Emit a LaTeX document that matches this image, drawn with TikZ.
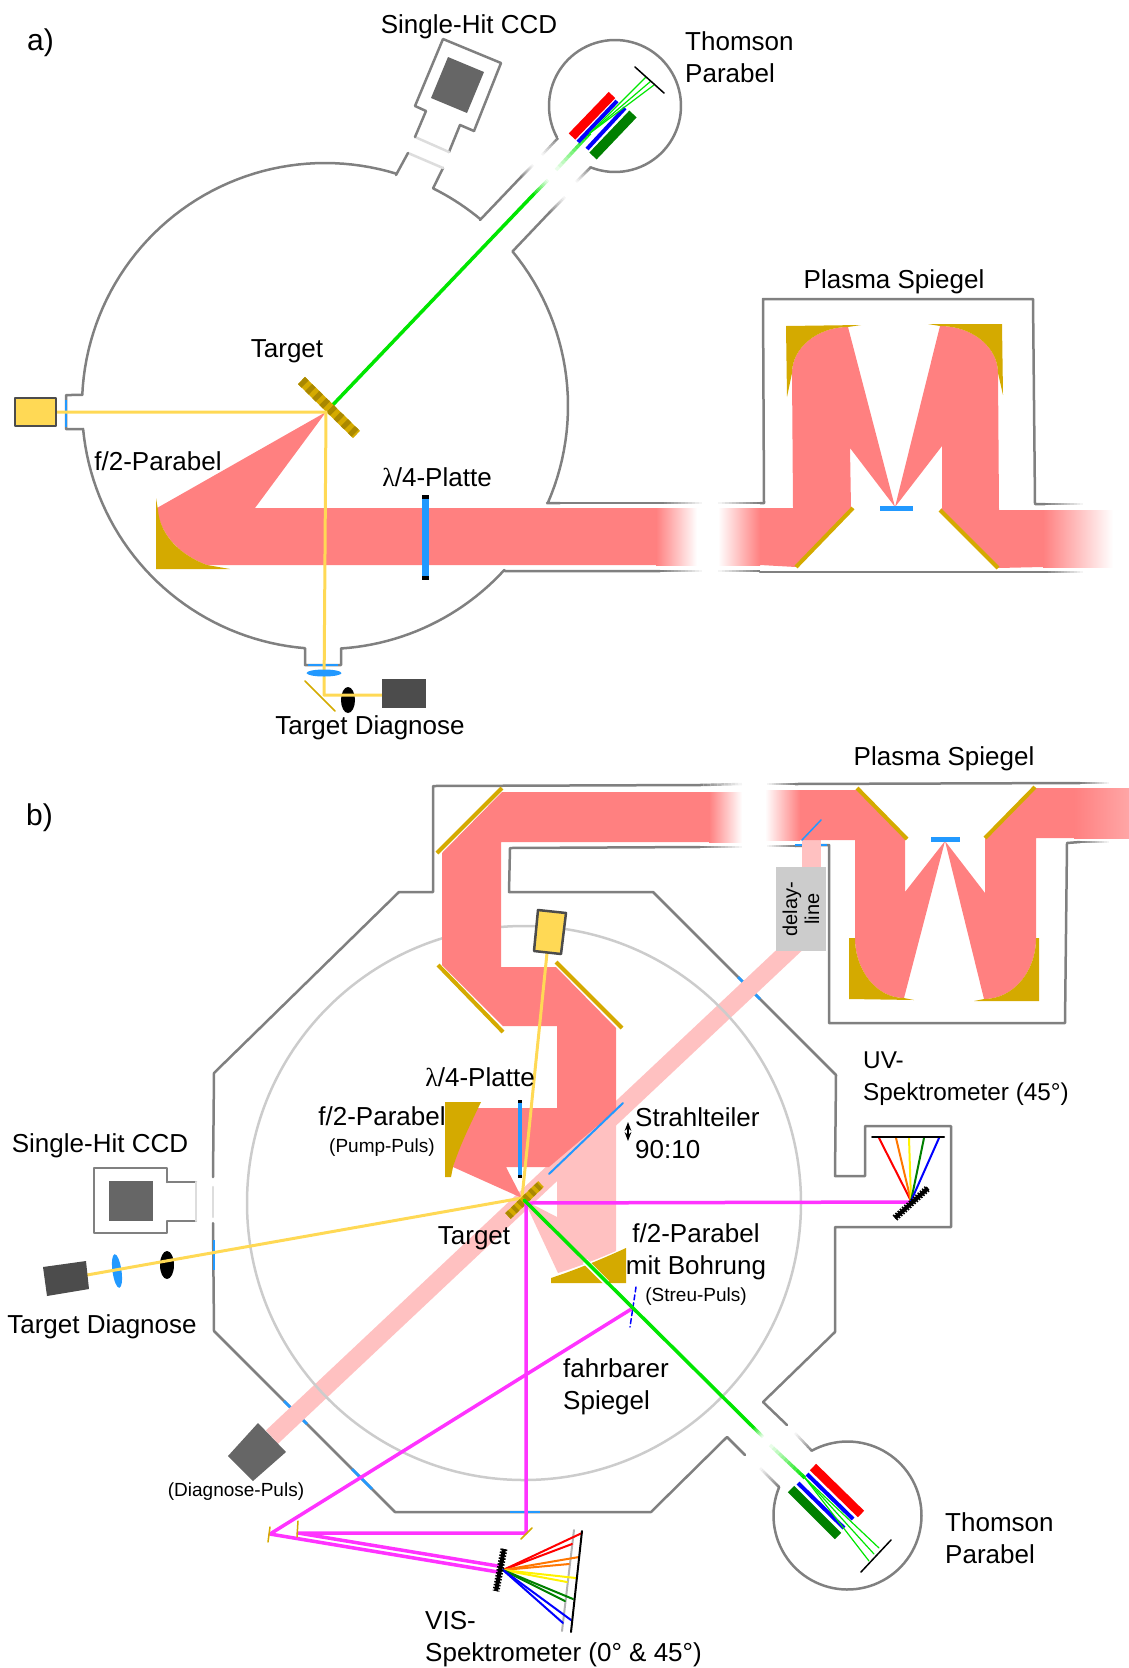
\documentclass[tikz,border=0pt]{standalone}
\usepackage{fontspec}
\setmainfont{Liberation Sans}
\newfontfamily\lambdafont{Liberation Serif}
\usetikzlibrary{arrows.meta,calc,shapes.geometric}

\definecolor{beam}{HTML}{FF8080}
\definecolor{beamlight}{HTML}{FFC1C1}
\definecolor{gold}{HTML}{D4AA00}
\definecolor{golddark}{HTML}{AA8800}
\definecolor{optic}{HTML}{2299FF}
\definecolor{probe}{HTML}{FFD955}
\definecolor{wallgray}{HTML}{808080}
\definecolor{wallpale}{HTML}{DDDDDD}
\definecolor{innergray}{HTML}{CCCCCC}
\definecolor{magentabeam}{HTML}{FF33FF}
\definecolor{ion}{HTML}{00E600}
\definecolor{darkgreen}{HTML}{008000}
\definecolor{orangeray}{HTML}{FF7700}

% fading piece of line, from full colour to white
\newcommand{\fadeline}[4]{%
  \foreach \i [evaluate=\i as \pc using 100-\i*8.33,
               evaluate=\i as \ta using \i/12,
               evaluate=\i as \tb using (\i+1)/12] in {0,...,11}
    \draw[#3!\pc!white,line width=#4,line cap=butt] ($#1!\ta!#2$) -- ($#1!\tb!#2$);%
}

\begin{document}
\begin{tikzpicture}[x=1pt,y=-1pt, line cap=round, line join=round, >=Stealth,
  wall/.style={draw=wallgray,line width=2.5pt},
  wallthin/.style={draw=wallpale,line width=2.5pt},
  window/.style={draw=optic,line width=2.5pt,line cap=butt},
  mirror/.style={draw=gold,line width=4pt,line cap=butt},
  probeline/.style={draw=probe,line width=3pt},
  pumpline/.style={draw=magentabeam,line width=3.5pt},
  ionline/.style={draw=ion,line width=3.5pt},
  ionthin/.style={draw=ion,line width=1.2pt},
  bar/.style={line width=#1,line cap=butt},
  ray/.style={line width=2pt},
  camera/.style={fill=black!70},
  lbl/.style={font=\fontsize{26}{32}\selectfont,align=left,inner sep=0pt},
  sublbl/.style={font=\fontsize{19}{23}\selectfont,align=center,inner sep=0pt},
  panellbl/.style={font=\fontsize{30}{32}\selectfont,inner sep=0pt}]
  \useasboundingbox (0,0) rectangle (1129,1668);

  % --- a) chamber ---
  \draw[wall] plot[domain=72.9:177.4,samples=50] ({325+243*cos(\x)},{406-243*sin(\x)})
    -- (66,395) -- (66,429) -- (83,429)
    -- plot[domain=185.4:265.3,samples=40] ({325+243*cos(\x)},{406-243*sin(\x)})
    -- (305,665) -- (341,665) -- (341,649)
    -- plot[domain=273.8:317.5,samples=25] ({325+243*cos(\x)},{406-243*sin(\x)})
    -- (505,571) -- (660,571);
  \draw[wall] (560,503) -- (547,503)
    -- plot[domain=336.4:399.5,samples=30] ({325+243*cos(\x)},{406-243*sin(\x)})
    -- (549,213);
  \draw[wall] (521,177) -- (480,220)
    -- plot[domain=50.2:63.6,samples=10] ({325+243*cos(\x)},{406-243*sin(\x)})
    -- (443,168);
  \draw[wallthin] (443,168) -- (408,153);
  \draw[wall] (408,153) -- (396,175);
  \draw[wall] (560,503) -- (660,503);
  \fadeline{(660,503)}{(702,503)}{wallgray}{2.5pt}
  \fadeline{(660,571)}{(702,571)}{wallgray}{2.5pt}
  \fadeline{(760,503)}{(718,503)}{wallgray}{2.5pt}
  \fadeline{(760,571)}{(718,571)}{wallgray}{2.5pt}
  \fadeline{(521,177)}{(533,165)}{wallgray}{2.5pt}
  \fadeline{(558,138)}{(542,155)}{wallgray}{2.5pt}
  \fadeline{(549,213)}{(565,197)}{wallgray}{2.5pt}
  \fadeline{(591,167)}{(576,182)}{wallgray}{2.5pt}
  \draw[window] (66,400) -- (66,427);
  \draw[window] (308,665) -- (338,665);

  % --- a) plasma mirror box ---
  \draw[wall] (760,503) -- (764,503) -- (763,299) -- (1033,299) -- (1035,504) -- (1045,504);
  \draw[wall] (760,572) -- (1045,572);
  \fadeline{(1045,504)}{(1083,504)}{wallgray}{2.5pt}
  \fadeline{(1045,572)}{(1083,572)}{wallgray}{2.5pt}

  % --- a) laser beam ---
  \fill[beam] (326,412) -- (157,508) .. controls (160,535) and (180,555) .. (207,565)
    -- (656,565) -- (656,508) -- (255,508) -- cycle;
  \shade[left color=beam,right color=white] (656,508) rectangle (697,565);
  \shade[left color=white,right color=beam] (718,508) rectangle (760,565);
  \fill[beam] (760,508) -- (793,508) -- (792,373)
    .. controls (792,348) and (817,327) .. (848,327) -- (895,507) -- (850,448) -- (851,508)
    -- (853,508) -- (796,567) -- (760,565) -- cycle;
  \fill[beam] (895,507) -- (940,326) .. controls (972,326) and (998,347) .. (998,373)
    -- (999,510) -- (1043,510) -- (1043,567) -- (998,568) -- (940,510) -- (942,508) -- (942,446) -- cycle;
  \shade[left color=beam,right color=white] (1043,510) rectangle (1113,567);

  % --- a) parabolas and mirrors ---
  \fill[gold] (156,498) -- (158,510) .. controls (160,535) and (180,555) .. (207,565)
    -- (230,569) -- (156,569) -- cycle;
  \fill[gold] (787,397) -- (792,373) .. controls (792,348) and (817,327) .. (848,327)
    -- (861,325) -- (786,326) -- cycle;
  \fill[gold] (1003,395) -- (998,373) .. controls (998,347) and (972,326) .. (940,326)
    -- (928,324) -- (1002,324) -- cycle;
  \draw[mirror] (796,567) -- (853,508);
  \draw[mirror] (940,510) -- (998,568);
  \draw[draw=optic,bar=5pt] (880,508) -- (913,508);
  \draw[draw=optic,bar=7pt] (425,495) -- (425,580);
  \draw[draw=black,bar=7pt] (425,495) -- (425,499);
  \draw[draw=black,bar=7pt] (425,576) -- (425,580);

  % --- a) target and diagnostics ---
  \draw[ionline] (326,412) -- (533,195);
  \fadeline{(533,195)}{(548,180)}{ion}{3.5pt}
  \fadeline{(590,133)}{(556,170)}{ion}{3.5pt}
  \draw[draw=gold,bar=10pt] (301.5,380.5) -- (356.5,434.5);
  \draw[draw=golddark,bar=10pt,dash pattern=on 5pt off 5pt] (301.5,380.5) -- (356.5,434.5);
  \fill[black] (348,700) ellipse [x radius=7,y radius=13];
  \draw[probeline] (55,412) -- (326,412) -- (324,695) -- (382,695);
  \draw[fill=probe,draw=black!70,line width=2.5pt] (15,398) rectangle (56,426);
  \fill[optic] (324,673) ellipse [x radius=17.5,y radius=3.5];
  \draw[draw=gold,line width=1.5pt] (305,681) -- (335,711);
  \fill[camera] (382,679) rectangle (426,708);

  % --- a) single-hit ccd ---
  \draw[wall] (474,131) -- (460,125) -- (449,152);
  \draw[wallthin] (449,152) -- (415,137);
  \draw[wall] (415,137) -- (426,111) -- (415,106) -- (443,39) -- (501,63) -- (474,131);
  \fill[black!60] (448,57) -- (484,72) -- (467,113) -- (431,98) -- cycle;

  % --- a) thomson parabola ---
  \draw[wall] plot[domain=248.5:568.5,samples=80] ({615+66*cos(\x)},{106-66*sin(\x)});
  \draw[fill=none,draw=red,bar=9pt] (572,136.5) -- (612,95);
  \draw[draw=blue,bar=4pt] (578,142) -- (617,101);
  \draw[draw=blue,bar=4pt] (587,149) -- (625,108);
  \draw[draw=darkgreen,bar=10pt] (593,156) -- (633,114);
  \draw[ionthin] (590,133) -- (646,77);
  \draw[ionthin] (590,133) -- (651,81);
  \draw[ionthin] (590,133) -- (654,85);
  \draw[draw=black,line width=1.5pt] (635,67) -- (664,93);

  % --- a) labels ---
  \node[panellbl,anchor=west] (labelA) at (27,43) {a)};
  \node[lbl] (ccdA) at (469,27) {Single-Hit CCD};
  \node[lbl,anchor=west] (thomsonA) at (685,57) {Thomson\\Parabel};
  \node[lbl] (targetA) at (287,351) {Target};
  \node[lbl] (paraA) at (158,461) {f/2-Parabel};
  \node[lbl] (plateA) at (437,477) {{\lambdafont λ}/4-Platte};
  \node[lbl] (plasmaA) at (894,282) {Plasma Spiegel};
  \node[lbl] (diagA) at (370,728) {Target Diagnose};

  % --- b) chamber ---
  \draw[wall] (700,785) -- (433,786) -- (433,892) -- (399,892) -- (214,1073) -- (213,1177);
  \draw[wallthin] (213,1187) -- (213,1217);
  \draw[wall] (213,1223) -- (214,1331) -- (395,1512) -- (651,1512) -- (727,1437);
  \draw[wall] (745,1455) -- (727,1437);
  \draw[wall] (700,847) -- (510,848) -- (509,892) -- (653,892) -- (836,1075) -- (835,1176)
    -- (865,1176) -- (865,1126) -- (951,1126) -- (951,1227) -- (835,1227) -- (835,1332) -- (763,1402);
  \draw[wall] (763,1402) -- (787,1425);
  \fadeline{(700,785)}{(742,784)}{wallgray}{2.5pt}
  \fadeline{(700,847)}{(742,847)}{wallgray}{2.5pt}
  \fadeline{(795,784)}{(767,784)}{wallgray}{2.5pt}
  \fadeline{(795,846)}{(767,846)}{wallgray}{2.5pt}
  \draw[wall] (795,784) -- (1080,783);
  \draw[wall] (795,846) -- (829,845) -- (829,1023) -- (1065,1023) -- (1067,843) -- (1080,842);
  \fadeline{(1080,783)}{(1109,783)}{wallgray}{2.5pt}
  \fadeline{(1080,842)}{(1109,842)}{wallgray}{2.5pt}
  \draw[wall] plot[domain=118.8:-202.6,samples=90] ({847.5+74*cos(\x)},{1515.5-74*sin(\x)});
  \fadeline{(812,1451)}{(795,1433)}{wallgray}{2.5pt}
  \fadeline{(779,1487)}{(760,1468)}{wallgray}{2.5pt}
  \draw[window] (284,1401) -- (307,1424);
  \draw[window] (352,1469) -- (372,1489);
  \draw[window] (510,1512) -- (540,1512);
  \draw[window] (214,1240) -- (214,1270);
  \draw[window] (738,977) -- (760,999);
  \draw[window] (795,845) -- (827,845);

  % --- b) diagnose beam ---
  \draw[draw=beamlight,bar=18pt] (799,941) -- (272,1437);
  \draw[draw=beamlight,bar=19pt] (811.5,840) -- (811.5,867);
  \fill[black!60] (258,1423) -- (286,1452) -- (253,1481) -- (228,1456) -- cycle;
  \fill[innergray] (776,867) rectangle (826,951);
  \node[font=\fontsize{20}{22}\selectfont,align=center,rotate=90,inner sep=0pt] (delay) at (801,909) {delay-\\line};

  % --- b) inner circle ---
  \draw[draw=innergray,line width=2.5pt] (524,1203) circle [radius=277];

  % --- b) streu beam below beam splitter ---
  \fill[beamlight] (616,1110) -- (616,1251) .. controls (595,1260) and (575,1268) .. (558,1273)
    -- (524,1200) -- (557,1217) -- (557,1170) -- cycle;

  % --- b) laser beam ---
  \shade[left color=beam,right color=white] (709,792) rectangle (742,842);
  \shade[left color=white,right color=beam] (765,790) rectangle (800,840);
  \shade[left color=beam,right color=beam!70!white] (1074,788) rectangle (1129,838);
  \fill[beam] (709,792) -- (502,792) -- (442,853) -- (442,965) -- (503,1026) -- (557,1026)
    -- (557,1108) -- (470,1108) .. controls (464,1125) and (458,1145) .. (453,1167)
    -- (522,1198) -- (506,1167) -- (549,1167) -- (616,1110) -- (616,1028) -- (556,967)
    -- (501,967) -- (501,842) -- (709,842) -- cycle;
  \fill[beam] (800,790) -- (857,790) -- (905,839) -- (905,892) -- (945,841) -- (904,998)
    .. controls (877,998) and (855,971) .. (855,938) -- (855,840) -- (800,840) -- cycle;
  \fill[beam] (1074,788) -- (1036,788) -- (985,838) -- (985,893) -- (945,841) -- (984,999)
    .. controls (1013,999) and (1036,972) .. (1036,938) -- (1036,838) -- (1074,838) -- cycle;

  % --- b) parabolas and mirrors ---
  \fill[gold] (445,1102) -- (481,1102) .. controls (470,1125) and (460,1145) .. (453,1167)
    -- (451,1177) -- (445,1177) -- cycle;
  \fill[gold] (626,1248) .. controls (600,1260) and (575,1270) .. (551,1278)
    -- (551,1283) -- (626,1283) -- cycle;
  \fill[gold] (849,938) -- (855,938) .. controls (855,971) and (877,998) .. (904,998)
    -- (914,1000) -- (849,999) -- cycle;
  \fill[gold] (1039,938) -- (1036,938) .. controls (1036,972) and (1013,999) .. (984,999)
    -- (974,1001) -- (1039,1001) -- cycle;
  \draw[mirror] (437,853) -- (502,788);
  \draw[mirror] (438,965) -- (503,1032);
  \draw[mirror] (556,962) -- (622,1028);
  \draw[mirror] (857,788) -- (907,839);
  \draw[mirror] (1035,787) -- (985,838);
  \draw[draw=optic,bar=5pt] (931,839) -- (960,839);
  \draw[draw=optic,line width=1.5pt] (802,840) -- (821,820);
  \draw[draw=optic,line width=2pt] (549,1174) -- (623,1103);
  \draw[draw=optic,bar=4.5pt] (520,1100) -- (520,1178);
  \draw[draw=black,bar=4.5pt] (520,1100) -- (520,1103);
  \draw[draw=black,bar=4.5pt] (520,1175) -- (520,1178);

  % --- b) probe lines and target ---
  \fill[black] (167,1265) ellipse [x radius=7,y radius=14];
  \fill[optic,rotate around={8:(117,1271)}] (117,1271) ellipse [x radius=4.5,y radius=17];
  \draw[probeline] (547,953) -- (522,1198) -- (87,1275);
  \draw[draw=black!70,fill=probe,line width=2.5pt] (538,910) -- (566,913) -- (561,954) -- (534,951) -- cycle;
  \fill[camera] (43,1267) -- (86,1261) -- (89,1289) -- (47,1296) -- cycle;
  \draw[wall] (167,1182) -- (167,1168) -- (94,1168) -- (94,1233) -- (167,1233) -- (167,1221) -- (196,1221);
  \draw[wall] (167,1182) -- (196,1182);
  \draw[wallthin] (196,1182) -- (196,1221);
  \fill[black!60] (109,1181) rectangle (153,1221);

  % --- b) target plate ---
  \draw[draw=gold,bar=8pt] (508,1216) -- (541,1184);
  \draw[draw=golddark,bar=8pt,dash pattern=on 4pt off 4pt] (508,1216) -- (541,1184);

  % --- b) spectrometer lines ---
  \draw[pumpline] (911,1202) -- (526,1203) -- (526,1533) -- (298,1533) -- (498,1566);
  \draw[pumpline] (498,1572) -- (270,1534) -- (633,1308);
  \draw[draw=gold,line width=1.5pt] (270,1527) -- (268,1542);
  \draw[draw=gold,line width=1.5pt] (298,1521) -- (297,1537);
  \draw[draw=gold,line width=1.5pt] (532,1528) -- (521,1539);
  \draw[draw=blue,line width=1.5pt,dash pattern=on 5pt off 3pt] (636,1287) -- (630,1327);

  % --- b) ion line ---
  \draw[draw=white,bar=6pt] (585,1261) -- (607,1283);
  \draw[ionline] (524,1200) -- (753,1427);
  \fadeline{(753,1427)}{(763,1437)}{ion}{3.5pt}
  \fadeline{(805,1478)}{(770,1445)}{ion}{3.5pt}

  % --- b) thomson parabola ---
  \draw[draw=red,bar=9pt] (813,1467) -- (861,1514);
  \draw[draw=blue,bar=4pt] (807,1474) -- (853,1519);
  \draw[draw=blue,bar=4pt] (798,1483) -- (844,1528);
  \draw[draw=darkgreen,bar=9pt] (791,1489) -- (838,1536);
  \draw[ionthin] (805,1478) -- (869,1561);
  \draw[ionthin] (805,1478) -- (874,1554);
  \draw[ionthin] (805,1478) -- (879,1548);
  \draw[draw=black,line width=1.5pt] (861,1572) -- (891,1540);

  % --- b) uv spectrometer ---
  \draw[ray,draw=red] (911,1201) -- (879,1138);
  \draw[ray,draw=orangeray] (911,1201) -- (896,1138);
  \draw[ray,draw=yellow] (911,1201) -- (909,1138);
  \draw[ray,draw=darkgreen] (911,1201) -- (924,1138);
  \draw[ray,draw=blue] (911,1201) -- (939,1138);
  \draw[draw=black,line width=2pt] (872,1137) -- (944,1137);
  \draw[draw=black,bar=4pt] (895,1218) -- (928,1188);
  \draw[draw=black,bar=7pt,dash pattern=on 1.5pt off 1.5pt] (895,1218) -- (928,1188);

  % --- b) vis spectrometer ---
  \draw[draw=black!30,line width=2pt] (574,1530) -- (562,1631);
  \draw[ray,draw=red] (503,1570) -- (572,1544);
  \draw[ray,draw=orangeray] (503,1570) -- (569,1564);
  \draw[ray,draw=yellow] (503,1570) -- (567,1582);
  \draw[ray,draw=darkgreen] (503,1570) -- (565,1601);
  \draw[ray,draw=blue] (503,1570) -- (563,1623);
  \draw[ray,draw=red] (503,1570) -- (582,1533);
  \draw[ray,draw=orangeray] (503,1570) -- (579,1557);
  \draw[ray,draw=yellow] (503,1570) -- (576,1578);
  \draw[ray,draw=darkgreen] (503,1570) -- (573,1599);
  \draw[ray,draw=blue] (503,1570) -- (571,1620);
  \draw[draw=black,line width=2pt] (582,1531) -- (571,1632);
  \draw[draw=black,bar=4pt] (504,1549) -- (496,1591);
  \draw[draw=black,bar=7pt,dash pattern=on 1.5pt off 1.5pt] (504,1549) -- (496,1591);

  % --- b) labels ---
  \node[panellbl,anchor=west] (labelB) at (26,818) {b)};
  \node[lbl] (plasmaB) at (944,759) {Plasma Spiegel};
  \node[lbl] (plateB) at (480,1077) {{\lambdafont λ}/4-Platte};
  \node[lbl] (paraB) at (382,1116) {f/2-Parabel};
  \node[sublbl] (pumpB) at (382,1148) {(Pump-Puls)};
  \node[lbl] (ccdB) at (100,1146) {Single-Hit CCD};
  \node[lbl] (diagB) at (102,1327) {Target Diagnose};
  \node[lbl] (targetB) at (474,1238) {Target};
  \node[lbl,anchor=west] (splitB) at (635,1133) {Strahlteiler\\90:10};
  \draw[<->,line width=1.3pt] (628,1122) -- (628,1141);
  \node[lbl,align=center] (paraC) at (696,1252) {f/2-Parabel\\mit Bohrung};
  \node[sublbl] (streuB) at (696,1297) {(Streu-Puls)};
  \node[lbl,anchor=west] (fahrB) at (563,1387) {fahrbarer\\Spiegel};
  \node[sublbl] (pulsB) at (236,1492) {(Diagnose-Puls)};
  \node[lbl,anchor=west,font=\fontsize{24.3}{32}\selectfont] (uvB) at (863,1079) {UV-\\Spektrometer (45°)};
  \node[lbl,anchor=west] (visB) at (425,1639) {VIS-\\Spektrometer (0° \& 45°)};
  \node[lbl,anchor=west] (thomsonB) at (945,1538) {Thomson\\Parabel};
\end{tikzpicture}
\end{document}
